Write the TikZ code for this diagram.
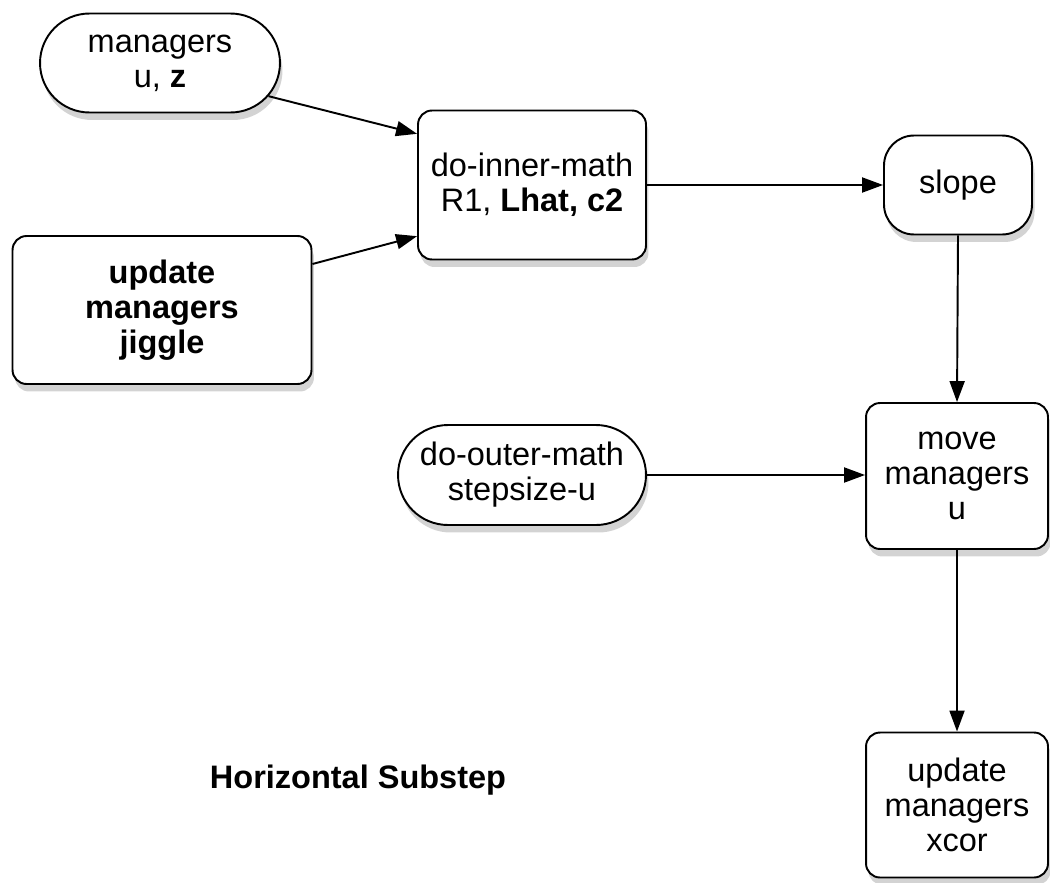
\documentclass[tikz,border=0pt]{standalone}
\usepackage{fontspec}
\setmainfont{Liberation Sans}
\usetikzlibrary{arrows.meta,shadows,shapes.misc}

\begin{document}
\begin{tikzpicture}[x=0.02cm,y=-0.02cm,
  font=\fontsize{18.5}{20}\selectfont,
  box/.style={draw, line width=1.1pt, fill=white, rounded corners=0.28cm, align=center, inner sep=0pt,
    drop shadow={opacity=0.35, shadow xshift=0.5mm, shadow yshift=-1.5mm}},
  pill/.style={box, rounded corners=0pt, rounded rectangle},
  flow/.style={line width=1.1pt, -{Triangle[length=0.42cm, width=0.3cm]}}]

\useasboundingbox (0,0) rectangle (1050,882); % Fix page size

\node [pill, minimum width=4.8cm, minimum height=1.98cm] (mgr) at (160,63) {managers\\u, \textbf{z}};
\node [box, minimum width=5.98cm, minimum height=2.96cm] (jiggle) at (162,310) {\textbf{update}\\\textbf{managers}\\\textbf{jiggle}};

\node [box, minimum width=4.56cm, minimum height=2.98cm] (inner) at (532,185) {do-inner-math\\R1, \textbf{Lhat, c2}};
\node [box, rounded corners=0.6cm, minimum width=2.96cm, minimum height=1.98cm] (slope) at (958,185) {slope};

\node [pill, minimum width=4.96cm, minimum height=2.0cm] (outer) at (522,475) {do-outer-math\\stepsize-u};
\node [box, minimum width=3.64cm, minimum height=2.92cm] (move) at (957,476) {move\\managers\\u};

\node [box, minimum width=3.64cm, minimum height=2.9cm] (xcor) at (957,805) {update\\managers\\xcor};

\node [draw=none] (title) at (358,780) {\textbf{Horizontal Substep}}; % Chart label

\draw[flow] (mgr.-17) -- (inner.156);
\draw[flow] (jiggle.17) -- (inner.204);
\draw[flow] (inner.east) -- (slope.west);
\draw[flow] (slope.south) -- (move.north);
\draw[flow] (outer.east) -- (outer.east -| move.west);
\draw[flow] (move.south) -- (xcor.north);

\end{tikzpicture}
\end{document}
